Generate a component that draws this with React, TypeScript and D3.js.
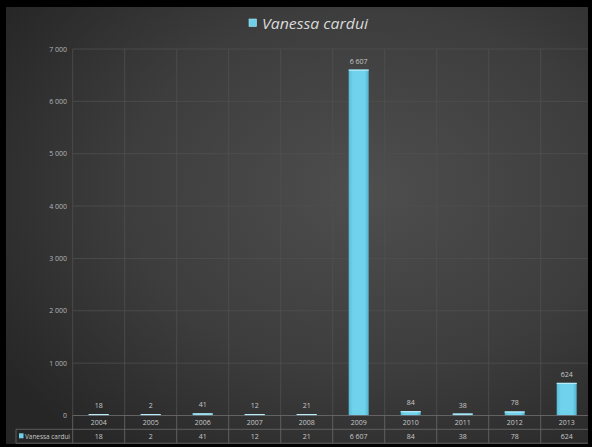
import React from "react";
import * as d3 from "d3";

const years = ["2004", "2005", "2006", "2007", "2008", "2009", "2010", "2011", "2012", "2013"];
const values = [18, 2, 41, 12, 21, 6607, 84, 38, 78, 624];
const yTicks = [0, 1000, 2000, 3000, 4000, 5000, 6000, 7000];
const seriesName = "Vanessa cardui";

const W = 592;
const H = 447;

function fmt(v: number): string {
  return d3.format(",")(v).replace(/,/g, " ");
}

export default function App() {
  const left = 72.7;
  const bw = 52;
  const x = d3
    .scaleBand<string>()
    .domain(years)
    .range([left, left + bw * years.length])
    .paddingInner(0)
    .paddingOuter(0);
  const y = d3.scaleLinear().domain([0, 7000]).range([415.5, 49]);
  const barW = 20;
  const row1 = 415.5;
  const row2 = 429.3;
  const row3 = 443.2;
  const font = "'Open Sans', 'Liberation Sans', sans-serif";
  const gridCol = "#4f4f4f";
  const tableCol = "#6a6a6a";

  return (
    <svg
      width={W}
      height={H}
      style={{ position: "absolute", left: 0, top: 0, display: "block" }}
      fontFamily={font}
    >
      <defs>
        <radialGradient id="bg" cx="0.62" cy="0.42" r="0.75">
          <stop offset="0" stopColor="#4e4e4e" />
          <stop offset="0.55" stopColor="#3d3d3d" />
          <stop offset="1" stopColor="#262626" />
        </radialGradient>
        <linearGradient id="bar" x1="0" x2="1" y1="0" y2="0">
          <stop offset="0" stopColor="#57bcd8" />
          <stop offset="0.2" stopColor="#70d2ec" />
          <stop offset="0.8" stopColor="#70d2ec" />
          <stop offset="1" stopColor="#4fb3cf" />
        </linearGradient>
      </defs>
      <rect x={0} y={0} width={W} height={H} fill="#000" />
      <rect x={6} y={7} width={582} height={437} fill="url(#bg)" />

      <g clipPath="">
        {/* horizontal grid */}
        {yTicks.map((t) => (
          <line
            key={"h" + t}
            x1={left}
            x2={588}
            y1={y(t)}
            y2={y(t)}
            stroke={gridCol}
            strokeWidth={0.8}
          />
        ))}
        {/* vertical grid */}
        {years.map((yr) => (
          <line
            key={"v" + yr}
            x1={x(yr)!}
            x2={x(yr)!}
            y1={y(7000)}
            y2={row1}
            stroke={gridCol}
            strokeWidth={0.8}
          />
        ))}
        {/* y labels */}
        {yTicks.map((t) => (
          <text
            key={"yl" + t}
            x={67}
            y={y(t) + 2.5}
            textAnchor="end"
            fontSize={7}
            fill="#b5b5b5"
          >
            {fmt(t)}
          </text>
        ))}
        {/* bars */}
        {years.map((yr, i) => {
          const cx = x(yr)! + x.bandwidth() / 2;
          const top = y(values[i]);
          const h = Math.max(row1 - top, 1.5);
          return (
            <g key={"b" + yr}>
              <rect
                x={cx - barW / 2}
                y={row1 - h}
                width={barW}
                height={h}
                fill="url(#bar)"
              />
              <line
                x1={cx - barW / 2}
                x2={cx + barW / 2}
                y1={row1 - h + 0.6}
                y2={row1 - h + 0.6}
                stroke="#b9ecf8"
                strokeWidth={1.2}
              />
              <text
                x={cx}
                y={row1 - h - 6}
                textAnchor="middle"
                fontSize={7}
                fill="#c8c8c8"
              >
                {fmt(values[i])}
              </text>
            </g>
          );
        })}
        {/* table */}
        <line x1={left} x2={588} y1={row1} y2={row1} stroke={tableCol} strokeWidth={0.8} />
        <line x1={16} x2={588} y1={row2} y2={row2} stroke={tableCol} strokeWidth={0.8} />
        <line x1={16} x2={588} y1={row3} y2={row3} stroke={tableCol} strokeWidth={0.8} />
        <line x1={16} x2={16} y1={row2} y2={row3} stroke={tableCol} strokeWidth={0.8} />
        {years.map((yr) => (
          <line
            key={"tv" + yr}
            x1={x(yr)!}
            x2={x(yr)!}
            y1={row1}
            y2={row3}
            stroke={tableCol}
            strokeWidth={0.8}
          />
        ))}
        {years.map((yr, i) => {
          const cx = x(yr)! + x.bandwidth() / 2;
          return (
            <g key={"tt" + yr}>
              <text x={cx} y={row1 + 9.5} textAnchor="middle" fontSize={7} fill="#c8c8c8">
                {yr}
              </text>
              <text x={cx} y={row2 + 9.5} textAnchor="middle" fontSize={7} fill="#c8c8c8">
                {fmt(values[i])}
              </text>
            </g>
          );
        })}
        <rect x={19} y={row2 + 4} width={4.5} height={5} fill="#6fd0ea" />
        <text x={25} y={row2 + 9.5} fontSize={7} fill="#c8c8c8" textLength={45} lengthAdjust="spacingAndGlyphs">
          {seriesName}
        </text>
      </g>

      {/* title / legend */}
      <rect x={249} y={19} width={7.5} height={7.5} fill="#6fd0ea" stroke="#a9e6f6" strokeWidth={0.6} />
      <text
        x={262}
        y={28.8}
        fontSize={14.5}
        fontStyle="italic"
        fill="#d9d9d9"
        textLength={106}
        lengthAdjust="spacingAndGlyphs"
      >
        {seriesName}
      </text>

      {/* right black edge */}
      <rect x={588} y={0} width={4} height={H} fill="#000" />
      <rect x={0} y={444} width={W} height={3} fill="#000" />
    </svg>
  );
}
